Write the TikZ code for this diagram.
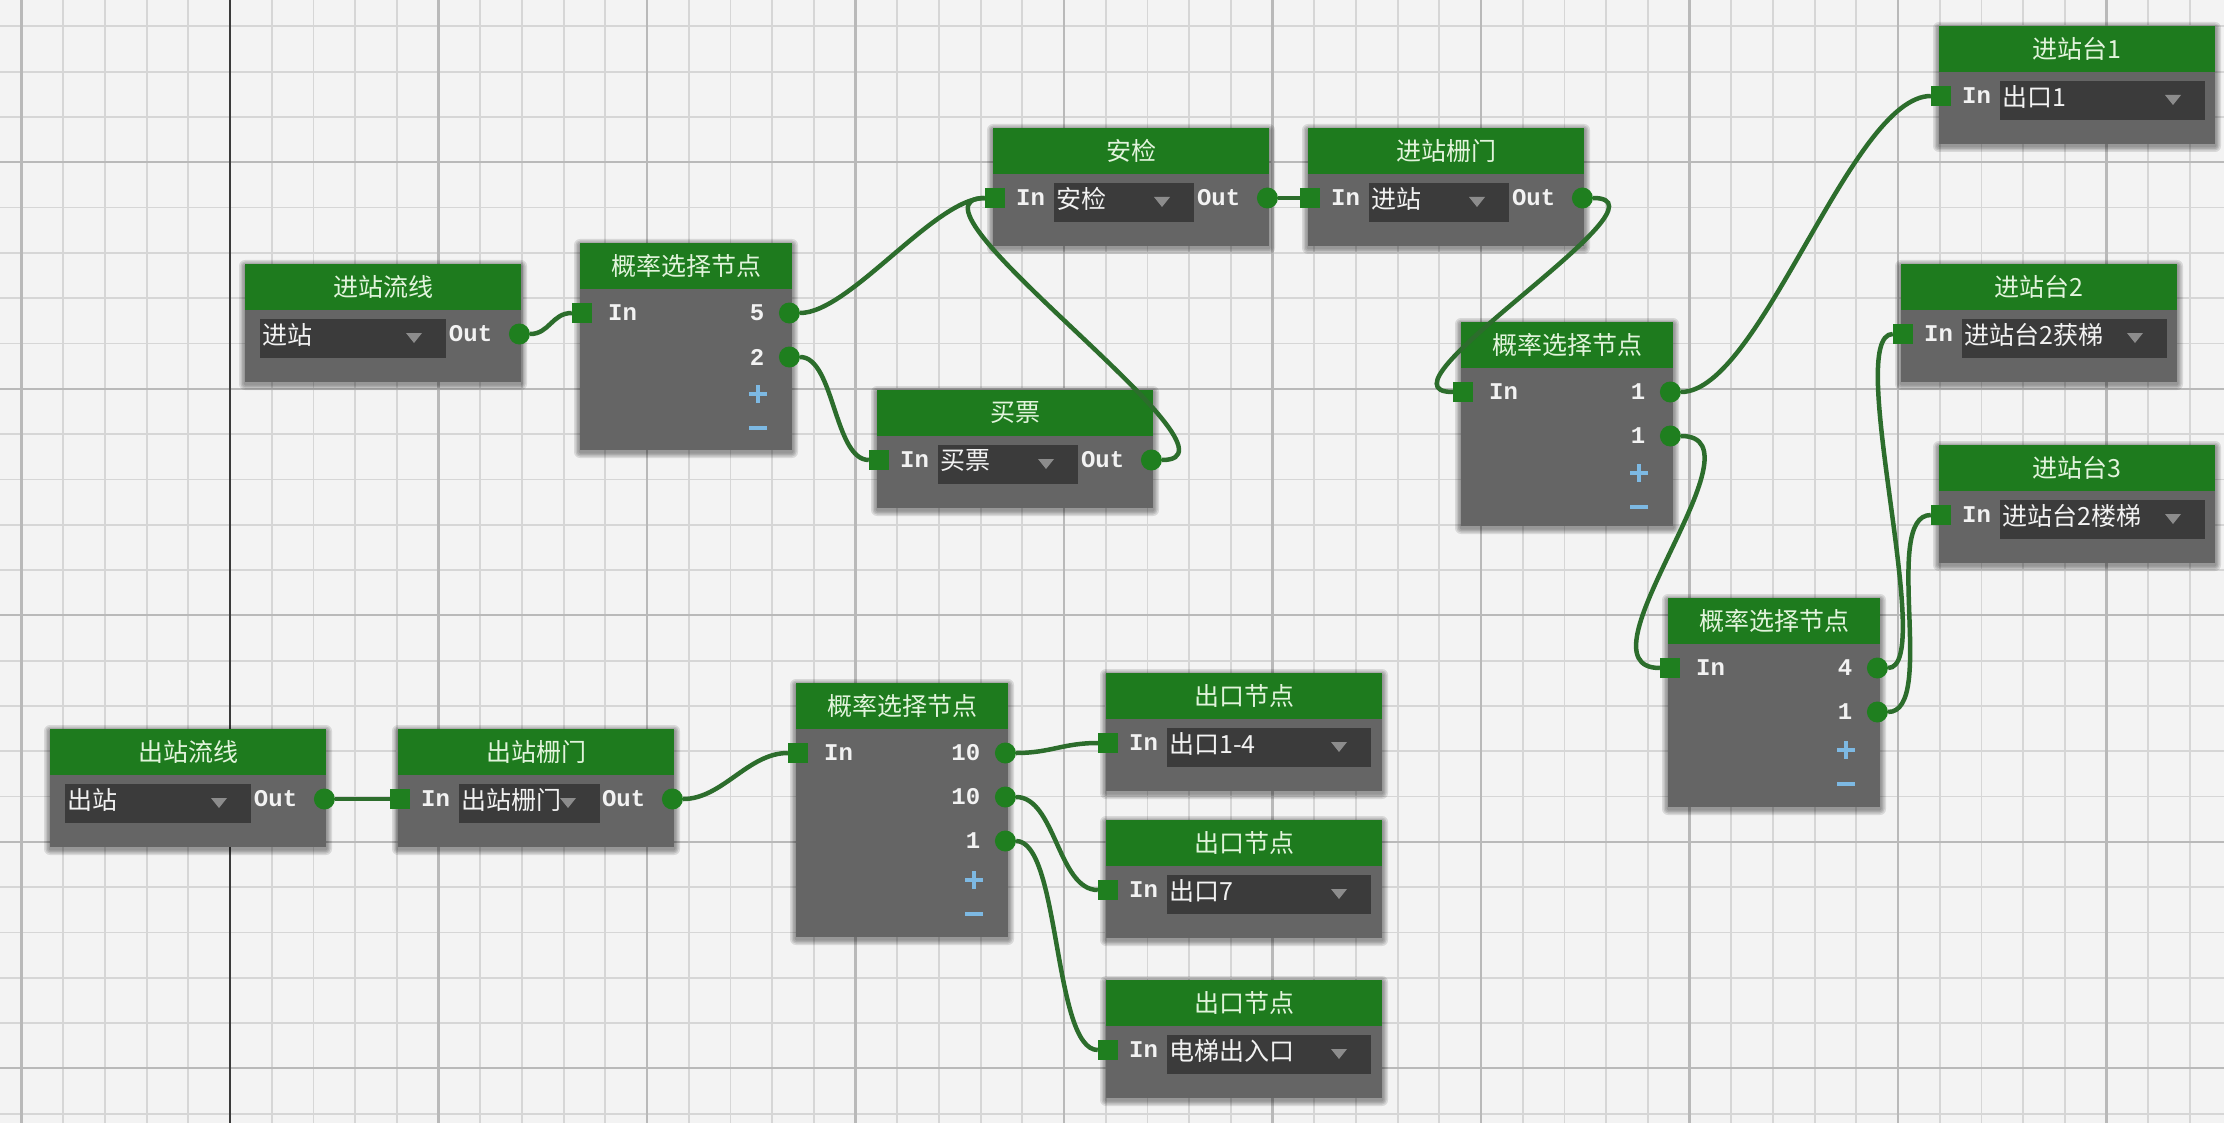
\documentclass[tikz,border=0pt]{standalone}
\usepackage{fontspec}
\newfontfamily\cjk{Noto Sans CJK SC}
\newfontfamily\monof{Liberation Mono}
\usetikzlibrary{calc}
\definecolor{bgc}{HTML}{F3F3F3}
\definecolor{gridc}{HTML}{D6D6D6}
\definecolor{gridm}{HTML}{B9B9B9}
\definecolor{gridd}{HTML}{3A3A3A}
\definecolor{hdrc}{HTML}{1E7B1E}
\definecolor{bodyc}{HTML}{656565}
\definecolor{ddc}{HTML}{3B3B3B}
\definecolor{portc}{HTML}{1F7F1F}
\definecolor{wirec}{HTML}{2C6D2C}
\definecolor{titlec}{HTML}{E2F4DC}
\definecolor{txtc}{HTML}{F2F2F2}
\definecolor{pmc}{HTML}{7DB9E3}
\definecolor{triac}{HTML}{8C8C8C}
\tikzset{
 box/.style={fill=bodyc, inner sep=0pt, anchor=north west},
 inport/.style={fill=portc, rectangle, inner sep=0pt, minimum size=20pt},
 outport/.style={fill=portc, circle, inner sep=0pt, minimum size=21pt},
 titletext/.style={inner sep=0pt, text=titlec, font=\cjk\fontsize{25}{25}\selectfont},
 ddtext/.style={inner sep=0pt, text=txtc, anchor=west, font=\cjk\fontsize{25}{25}\selectfont},
 porttext/.style={inner sep=0pt, text=txtc, font=\monof\bfseries\fontsize{24}{24}\selectfont},
 wire/.style={draw=wirec, line width=4.5pt},
 pm/.style={draw=pmc, line width=4pt},
 gridminor/.style={draw=gridc, line width=1.8pt},
 gridmed/.style={draw=gridm, line width=2.2pt},
 griddark/.style={draw=gridd, line width=2.6pt},
}
% box with soft shadow: name, x, y, w, h
\newcommand\nbox[5]{%
  \foreach \s in {1.5,3,4.5,6}{\fill[black, opacity=0.11, rounded corners=\s pt] (#2-\s,#3-\s+2) rectangle (#2+#4+\s,#3+#5+\s+2);}
  \node[box, minimum width=#4pt, minimum height=#5pt] (#1) at (#2,#3) {};}
\newcommand\hdr[2]{%
  \fill[hdrc] (#1.north west) rectangle ($(#1.north east)+(0,46)$);
  \node[titletext] (#1-t) at ($(#1.north)+(0,23)$) {#2};}
\newcommand\inp[1]{%
  \node[inport] (#1-in) at ($(#1.north west)+(2,70)$) {};
  \node[porttext, anchor=west] (#1-intxt) at ($(#1.north west)+(23,70)$) {In};}
\newcommand\outp[1]{%
  \node[outport] (#1-out) at ($(#1.north east)+(-2,70)$) {};
  \node[porttext, anchor=east] (#1-outtxt) at ($(#1.north east)+(-29,70)$) {Out};}
\newcommand\dd[4]{%
  \fill[ddc] ($(#1.north west)+(#2,55)$) rectangle ($(#1.north west)+(#3,94)$);
  \node[ddtext] (#1-dd) at ($(#1.north west)+(#2+2,71)$) {#4};
  \fill[triac] ($(#1.north west)+(#3-40,69)$) -- ++(16,0) -- ++(-8,10) -- cycle;}
\newcommand\probbox[4]{%
  \nbox{#1}{#2}{#3}{212}{#4}
  \hdr{#1}{概率选择节点}
  \node[inport] (#1-in) at ($(#1.north west)+(2,70)$) {};
  \node[porttext, anchor=west] (#1-intxt) at ($(#1.north west)+(28,70)$) {In};}
\newcommand\probout[3]{%
  \node[outport] (#1-o#2) at ($(#1.north east)+(-3,26+44*#2)$) {};
  \node[porttext, anchor=east] (#1-l#2) at ($(#1.north east)+(-28,26+44*#2)$) {#3};}
\newcommand\probpm[2]{%
  \draw[pm] ($(#1.north east)+(-43,#2)$) -- ++(18,0);
  \draw[pm] ($(#1.north east)+(-34,#2-9)$) -- ++(0,18);
  \draw[pm] ($(#1.north east)+(-43,#2+34)$) -- ++(18,0);}
\begin{document}
\begin{tikzpicture}[x=1pt,y=-1pt]
\useasboundingbox (0,0) rectangle (2224,1123);
\fill[bgc] (0,0) rectangle (2224,1123);
% grid
\foreach \k in {-5,...,47}{\pgfmathsetmacro\gx{230+41.7*\k}\draw[gridminor] (\gx,0) -- (\gx,1123);}
\foreach \j in {-3,...,21}{\pgfmathsetmacro\gy{162.3+45.3*\j}\draw[gridminor] (0,\gy) -- (2224,\gy);}
\foreach \k in {-5,0,...,45}{\pgfmathsetmacro\gx{230+41.7*\k}\draw[gridmed] (\gx,0) -- (\gx,1123);}
\foreach \j in {0,5,...,20}{\pgfmathsetmacro\gy{162.3+45.3*\j}\draw[gridmed] (0,\gy) -- (2224,\gy);}
\draw[griddark] (230,0) -- (230,1123);

% standard nodes
\nbox{in1}{245}{264}{276}{118}\hdr{in1}{进站流线}\dd{in1}{15}{201}{进站}\outp{in1}
\nbox{ajian}{993}{128}{276}{118}\hdr{ajian}{安检}\dd{ajian}{61}{201}{安检}\inp{ajian}\outp{ajian}
\nbox{jzzm}{1308}{128}{276}{118}\hdr{jzzm}{进站栅门}\dd{jzzm}{61}{201}{进站}\inp{jzzm}\outp{jzzm}
\nbox{maipiao}{877}{390}{276}{118}\hdr{maipiao}{买票}\dd{maipiao}{61}{201}{买票}\inp{maipiao}\outp{maipiao}
\nbox{t1}{1939}{26}{276}{118}\hdr{t1}{进站台1}\dd{t1}{61}{266}{出口1}\inp{t1}
\nbox{t2}{1901}{264}{276}{118}\hdr{t2}{进站台2}\dd{t2}{61}{266}{进站台2获梯}\inp{t2}
\nbox{t3}{1939}{445}{276}{118}\hdr{t3}{进站台3}\dd{t3}{61}{266}{进站台2楼梯}\inp{t3}
\nbox{out1}{50}{729}{276}{118}\hdr{out1}{出站流线}\dd{out1}{15}{201}{出站}\outp{out1}
\nbox{czzm}{398}{729}{276}{118}\hdr{czzm}{出站栅门}\dd{czzm}{61}{202}{出站栅门}\inp{czzm}\outp{czzm}
\nbox{exa}{1106}{673}{276}{118}\hdr{exa}{出口节点}\dd{exa}{61}{265}{出口1-4}\inp{exa}
\nbox{exb}{1106}{820}{276}{118}\hdr{exb}{出口节点}\dd{exb}{61}{265}{出口7}\inp{exb}
\nbox{exc}{1106}{980}{276}{118}\hdr{exc}{出口节点}\dd{exc}{61}{265}{电梯出入口}\inp{exc}

% probability nodes
\probbox{p1}{580}{243}{207}\probout{p1}{1}{5}\probout{p1}{2}{2}\probpm{p1}{151}
\probbox{p2}{1461}{322}{204}\probout{p2}{1}{1}\probout{p2}{2}{1}\probpm{p2}{151}
\probbox{p3}{1668}{598}{209}\probout{p3}{1}{4}\probout{p3}{2}{1}\probpm{p3}{152}
\probbox{p4}{796}{683}{254}\probout{p4}{1}{10}\probout{p4}{2}{10}\probout{p4}{3}{1}\probpm{p4}{197}

% wires
\draw[wire] (in1-out) .. controls +(30,0) and +(-30,0) .. (p1-in);
\draw[wire] (p1-o1) .. controls +(60,0) and +(-60,0) .. (ajian-in);
\draw[wire] (p1-o2) .. controls +(45,0) and +(-45,0) .. (maipiao-in);
\draw[wire] (maipiao-out) .. controls +(110,0) and +(-110,0) .. (ajian-in);
\draw[wire] (ajian-out) .. controls +(15,0) and +(-15,0) .. (jzzm-in);
\draw[wire] (jzzm-out) .. controls +(100,0) and +(-100,0) .. (p2-in);
\draw[wire] (p2-o1) .. controls +(90,0) and +(-90,0) .. (t1-in);
\draw[wire] (p2-o2) .. controls +(100,0) and +(-100,0) .. (p3-in);
\draw[wire] (p3-o1) .. controls +(60,0) and +(-60,0) .. (t2-in);
\draw[wire] (p3-o2) .. controls +(60,0) and +(-60,0) .. (t3-in);
\draw[wire] (out1-out) .. controls +(20,0) and +(-20,0) .. (czzm-in);
\draw[wire] (czzm-out) .. controls +(50,0) and +(-50,0) .. (p4-in);
\draw[wire] (p4-o1) .. controls +(45,0) and +(-45,0) .. (exa-in);
\draw[wire] (p4-o2) .. controls +(50,0) and +(-50,0) .. (exb-in);
\draw[wire] (p4-o3) .. controls +(55,0) and +(-55,0) .. (exc-in);
\end{tikzpicture}
\end{document}
